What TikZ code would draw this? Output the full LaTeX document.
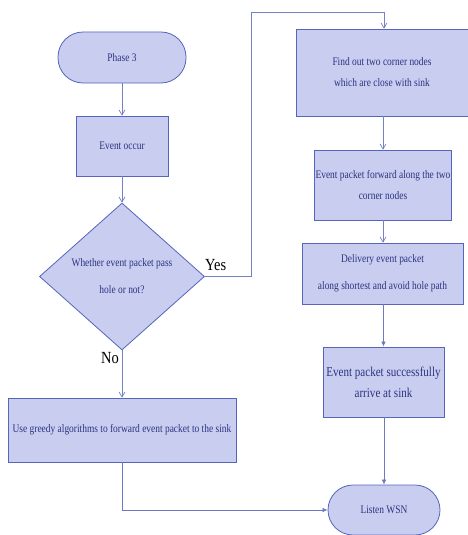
\documentclass[tikz,border=0pt]{standalone}
\usepackage{fontspec}
\setmainfont{Liberation Serif}
\newfontfamily\narrowfont[FakeStretch=0.82]{Liberation Serif}
\newfontfamily\lblfont[FakeStretch=0.85]{Liberation Serif}
\usetikzlibrary{shapes.geometric,arrows.meta}
\definecolor{boxfill}{HTML}{C9CDF0}
\definecolor{boxdraw}{HTML}{5565BC}
\definecolor{linec}{HTML}{7282C4}
\definecolor{txt}{HTML}{2B3480}
\tikzset{
  x=1pt,y=-1pt,
  base/.style={draw=boxdraw,fill=boxfill,line width=0.8pt,text=txt,font=\narrowfont\fontsize{11.5}{21}\selectfont,align=center,inner sep=0pt},
  procbox/.style={base,rectangle},
  termbox/.style={base,rectangle,rounded corners=25pt},
  decbox/.style={base,diamond},
  conn/.style={draw=linec,line width=0.7pt,-{Straight Barb[length=5pt,width=6pt]}},
  connf/.style={draw=linec!70!boxdraw,line width=0.7pt,-{Latex[length=5pt,width=4.5pt]}},
  lbl/.style={font=\lblfont\fontsize{17}{17}\selectfont,text=black,inner sep=0pt}
}
\begin{document}
\begin{tikzpicture}
\useasboundingbox (0,0) rectangle (467,535);
\node[termbox,minimum width=128pt,minimum height=51pt] (p3) at (122,57.5) {Phase 3};
\node[procbox,minimum width=92pt,minimum height=60pt] (ev) at (122,146) {Event occur};
\node[decbox,minimum width=165pt,minimum height=147pt] (dec) at (122,276.5) {Whether event packet pass\\[6pt]hole or not?};
\node[procbox,minimum width=228pt,minimum height=64pt] (gr) at (122,430) {Use greedy algorithms to forward event packet to the sink};
\node[procbox,minimum width=172pt,minimum height=87pt] (fo) at (382,72.5) {Find out two corner nodes\\which are close with sink};
\node[procbox,minimum width=137pt,minimum height=70pt] (ef) at (383,185) {Event packet forward along the two\\corner nodes};
\node[procbox,minimum width=161pt,minimum height=61pt] (de) at (382.5,273.5) {Delivery event packet\\[6pt]along shortest and avoid hole path};
\node[procbox,minimum width=121pt,minimum height=70pt] (es) at (383.5,382) {\fontsize{13.5}{22}\selectfont Event packet successfully\\\fontsize{13.5}{22}\selectfont arrive at sink};
\node[termbox,minimum width=112pt,minimum height=50pt] (ls) at (384,510) {Listen WSN};
\draw[conn] (p3) -- (ev);
\draw[conn] (ev) -- (dec);
\draw[conn] (dec.south) -- (gr.north);
\draw[conn] (dec.east) -- ++(46,0) |- (384,12) -- (fo.north -| 384,0);
\draw[conn] (fo.south -| ef) -- (ef.north);
\draw[conn] (ef.south) -- (ef.south |- de.north);
\draw[connf] (de.south -| es) -- (es.north);
\draw[connf] (es.south -| ls) -- (ls.north);
\draw[connf] (gr.south) |- (ls.west);
\node[lbl,anchor=west] (yes) at (205,265) {Yes};
\node[lbl,anchor=east] (no) at (119,358) {No};
\end{tikzpicture}
\end{document}
